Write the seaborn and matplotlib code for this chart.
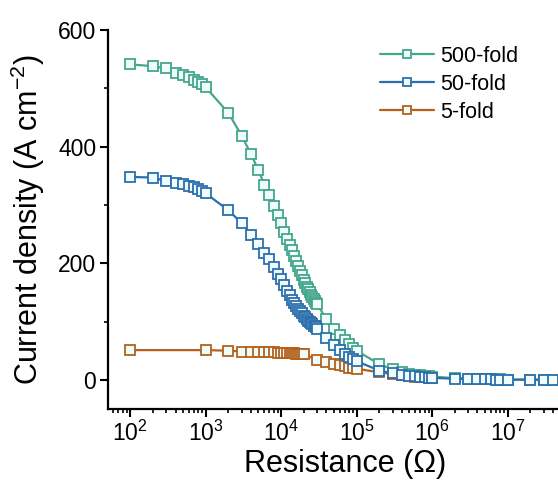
import numpy as np
import pandas as pd
import matplotlib
matplotlib.use("Agg")
import matplotlib.pyplot as plt
import seaborn as sns
from matplotlib.ticker import LogLocator, MultipleLocator, NullFormatter, FixedLocator

# ---------------- data ----------------
r_500 = [100, 200, 300, 400, 500, 600, 700, 800, 900,
         1000, 2000, 3000, 4000, 5000, 6000, 7000, 8000, 9000,
         10000, 11000, 12000, 13000, 14000, 15000, 16000, 17000, 18000, 19000,
         20000, 21000, 22000, 23000, 24000, 25000, 26000, 27000, 28000, 29000,
         30000, 40000, 50000, 60000, 70000, 80000, 90000,
         100000, 200000, 300000, 400000, 500000, 600000, 700000, 800000, 900000,
         1000000, 2000000, 3000000, 4000000, 5000000, 6000000, 7000000, 8000000,
         10000000, 20000000, 30000000, 40000000]
j_500 = [541, 538, 534, 527, 523, 519, 514, 510, 507,
         502, 458, 419, 387, 360, 335, 317, 298, 283,
         269, 254, 241, 231, 223, 213, 204, 195, 186, 179,
         172, 166, 160, 155, 150, 146, 142, 138, 135, 132,
         130, 104, 88, 77, 68, 61, 55,
         50, 27, 18, 13, 10, 9, 8, 7, 6,
         5.5, 3, 2, 1.4, 1.1, 0.9, 0.8, 0.7,
         0.55, 0.3, 0.2, 0.15]

r_50 = r_500
j_50 = [348, 347, 341, 338, 336, 333, 330, 327, 324,
        320, 291, 269, 249, 233, 217, 207, 193, 182,
        173, 163, 153, 146, 137, 131, 126, 122, 118, 114,
        110, 107, 104, 101, 99, 97, 95, 93, 92, 90,
        88, 72, 60, 51, 44, 39, 35,
        32, 16, 11, 8.5, 7, 6, 5, 4.5, 4,
        3.5, 1.8, 1.2, 0.9, 0.7, 0.6, 0.5, 0.45,
        0.35, 0.18, 0.12, 0.09]

r_5 = [100, 1000, 2000, 3000, 4000, 5000, 6000, 7000, 8000, 9000,
       10000, 11000, 12000, 13000, 14000, 15000, 16000, 17000, 18000, 19000,
       20000, 30000, 40000, 50000, 60000, 70000, 80000, 90000,
       100000, 200000, 300000, 400000, 500000, 600000, 700000, 800000, 900000,
       1000000]
j_5 = [51, 51, 50, 48.6, 48, 48, 47.5, 47, 47, 46.5,
       46, 45.8, 45.6, 45.5, 45.3, 45.2, 45, 44.9, 44.8, 44.7,
       44.6, 34, 31, 27.5, 25, 23, 21, 20,
       19, 13, 10, 8, 6.5, 5.5, 5, 4.5, 4,
       3.5]

series_names = ["500-fold", "50-fold", "5-fold"]
x_ticks = [1e2, 1e3, 1e4, 1e5, 1e6, 1e7]
y_ticks = [0, 200, 400, 600]
colors = {"500-fold": "#45a68c", "50-fold": "#2c6fad", "5-fold": "#b3621d"}

df = pd.concat([
    pd.DataFrame({"R": r_500, "J": j_500, "series": "500-fold"}),
    pd.DataFrame({"R": r_50, "J": j_50, "series": "50-fold"}),
    pd.DataFrame({"R": r_5, "J": j_5, "series": "5-fold"}),
], ignore_index=True)

# ---------------- style ----------------
sns.set_style("ticks")
plt.rcParams["font.family"] = ["Liberation Sans", "DejaVu Sans"]
plt.rcParams["mathtext.fontset"] = "custom"
plt.rcParams["mathtext.rm"] = "Liberation Sans"
plt.rcParams["mathtext.it"] = "Liberation Sans:italic"
plt.rcParams["mathtext.bf"] = "Liberation Sans:bold"
plt.rcParams["text.color"] = "black"
plt.rcParams["axes.labelcolor"] = "black"
plt.rcParams["xtick.color"] = "black"
plt.rcParams["ytick.color"] = "black"

fig = plt.figure(figsize=(5.58, 4.82), dpi=100)
ax = fig.add_axes([108 / 558, (482 - 409) / 482, (583 - 108) / 558, (409 - 30) / 482])

handles = {}
for name in ["5-fold", "500-fold", "50-fold"]:
    sub = df[df["series"] == name]
    sns.lineplot(data=sub, x="R", y="J", ax=ax, estimator=None, sort=False,
                 color=colors[name], linewidth=1.6, marker="s", markersize=7,
                 markerfacecolor="#f0fbfb", markeredgecolor=colors[name],
                 markeredgewidth=1.3, label=name, legend=False, clip_on=False)
    handles[name] = ax.lines[-1]

ax.set_xscale("log")
ax.set_xlim(51, 1e8)
ax.set_ylim(-50, 600)
ax.yaxis.set_major_locator(FixedLocator(y_ticks))
ax.yaxis.set_minor_locator(MultipleLocator(100))
ax.xaxis.set_major_locator(FixedLocator(x_ticks))
ax.xaxis.set_minor_locator(LogLocator(base=10, subs=np.arange(2, 10), numticks=20))
ax.xaxis.set_minor_formatter(NullFormatter())
from matplotlib.ticker import LogFormatterMathtext
ax.xaxis.set_major_formatter(LogFormatterMathtext())

for s in ["top", "right"]:
    ax.spines[s].set_visible(False)
for s in ["left", "bottom"]:
    ax.spines[s].set_linewidth(1.6)
    ax.spines[s].set_color("black")

ax.tick_params(axis="both", which="major", direction="out", length=5.5, width=1.5,
               labelsize=16.5, colors="black", pad=3)
ax.tick_params(axis="both", which="minor", direction="out", length=3, width=1.2,
               colors="black")

ax.set_xlabel("Resistance (Ω)", fontsize=22, labelpad=2)
ax.set_ylabel("Current density (A cm$^{-2}$)", fontsize=22, labelpad=8)

leg = fig.legend([handles[n] for n in series_names], series_names,
                 loc="upper left", bbox_to_anchor=(380 / 558, 1 - 46 / 482),
                 frameon=False, fontsize=15.5, handlelength=2.5,
                 handletextpad=0.3, labelspacing=0.32, borderpad=0,
                 borderaxespad=0, numpoints=1, markerscale=0.85)
for t in leg.get_texts():
    t.set_color("black")

fig.savefig("out.png", dpi=100)
